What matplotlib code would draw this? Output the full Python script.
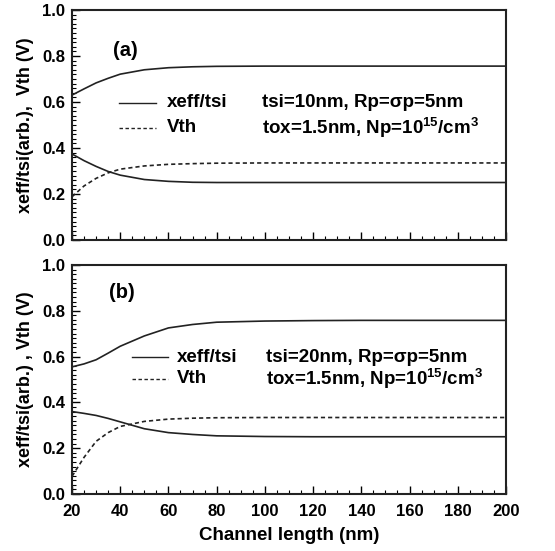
import numpy as np
import matplotlib
matplotlib.use("Agg")
import matplotlib.pyplot as plt
from matplotlib.ticker import MultipleLocator

plt.rcParams['font.family'] = ['Liberation Sans', 'DejaVu Sans']
plt.rcParams['font.weight'] = 'bold'
plt.rcParams['axes.labelweight'] = 'bold'
plt.rcParams['mathtext.fontset'] = 'custom'
plt.rcParams['mathtext.rm'] = 'Liberation Sans:bold'
plt.rcParams['mathtext.bf'] = 'Liberation Sans:bold'
plt.rcParams['mathtext.it'] = 'Liberation Sans:bold'

# channel length (nm)
length = [20, 25, 30, 35, 40, 50, 60, 70, 80, 100, 120, 140, 160, 180, 200]

# panel (a): tsi = 10nm
xeff_top_a = [0.630, 0.657, 0.683, 0.703, 0.721, 0.740, 0.749, 0.753, 0.755,
              0.756, 0.756, 0.756, 0.756, 0.756, 0.756]
xeff_bot_a = [0.374, 0.345, 0.320, 0.298, 0.282, 0.263, 0.255, 0.251, 0.250,
              0.250, 0.250, 0.250, 0.250, 0.250, 0.250]
vth_a = [0.188, 0.235, 0.268, 0.292, 0.308, 0.322, 0.329, 0.332, 0.334,
         0.335, 0.335, 0.335, 0.335, 0.335, 0.335]

# panel (b): tsi = 20nm
xeff_top_b = [0.555, 0.568, 0.586, 0.615, 0.645, 0.690, 0.725, 0.740, 0.750,
              0.755, 0.757, 0.758, 0.758, 0.758, 0.758]
xeff_bot_b = [0.360, 0.352, 0.343, 0.330, 0.315, 0.285, 0.268, 0.260, 0.254,
              0.251, 0.250, 0.250, 0.250, 0.250, 0.250]
vth_b = [0.077, 0.160, 0.230, 0.268, 0.295, 0.317, 0.327, 0.331, 0.333,
         0.334, 0.334, 0.334, 0.334, 0.334, 0.334]

fig = plt.figure(figsize=(5.55, 5.51), dpi=100)
ax_a = fig.add_axes([0.1297, 0.5644, 0.782, 0.4175])
ax_b = fig.add_axes([0.1297, 0.1034, 0.782, 0.4158])

line_col = '#222222'
dash = (0, (2.5, 1.8))
fs = 13.5


def style_axes(ax):
    ax.set_xlim(20, 200)
    ax.set_ylim(0, 1.0)
    ax.xaxis.set_major_locator(MultipleLocator(20))
    ax.xaxis.set_minor_locator(MultipleLocator(5))
    ax.yaxis.set_major_locator(MultipleLocator(0.2))
    ax.yaxis.set_minor_locator(MultipleLocator(0.02))
    ax.tick_params(which='both', direction='in', top=False, right=False)
    ax.tick_params(which='major', length=6, width=1.0, labelsize=12, pad=5)
    ax.tick_params(axis='x', which='major', pad=7)
    ax.tick_params(which='minor', length=3, width=0.8)
    ax.yaxis.set_major_formatter(plt.FuncFormatter(lambda v, p: f"{v:.1f}"))
    for lab in ax.get_xticklabels() + ax.get_yticklabels():
        lab.set_fontweight('bold')
    for s in ax.spines.values():
        s.set_linewidth(1.5)
        s.set_color('#222222')


def draw_panel(ax, top, bot, vth):
    ax.plot(length, top, color=line_col, lw=1.2)
    ax.plot(length, bot, color=line_col, lw=1.2)
    ax.plot(length, vth, color=line_col, lw=1.2, ls=dash)


draw_panel(ax_a, xeff_top_a, xeff_bot_a, vth_a)
draw_panel(ax_b, xeff_top_b, xeff_bot_b, vth_b)
style_axes(ax_a)
style_axes(ax_b)
ax_a.tick_params(labelbottom=False)

# panel (a) annotations
ax_a.text(42, 0.825, "(a)", fontsize=14.5, va='center', ha='center')
ax_a.plot([39.5, 55], [0.596, 0.596], color=line_col, lw=1.0)
ax_a.plot([39.5, 55], [0.487, 0.487], color=line_col, lw=1.0, ls=dash)
ax_a.text(59.5, 0.596, "xeff/tsi", fontsize=fs, va='center')
ax_a.text(59.5, 0.487, "Vth", fontsize=fs, va='center')
ax_a.text(99, 0.596, "tsi=10nm, Rp=\u03c3p=5nm", fontsize=fs, va='center')
ax_a.text(99, 0.487, "tox=1.5nm, Np=10$^{15}$/cm$^{3}$", fontsize=fs, va='center')
ax_a.set_ylabel("xeff/tsi(arb.),  Vth (V)", fontsize=13, labelpad=6)

# panel (b) annotations
ax_b.text(40.5, 0.88, "(b)", fontsize=14.5, va='center', ha='center')
ax_b.plot([45, 60], [0.598, 0.598], color=line_col, lw=1.0)
ax_b.plot([45, 60], [0.503, 0.503], color=line_col, lw=1.0, ls=dash)
ax_b.text(63.5, 0.598, "xeff/tsi", fontsize=fs, va='center')
ax_b.text(63.5, 0.503, "Vth", fontsize=fs, va='center')
ax_b.text(100.5, 0.598, "tsi=20nm, Rp=\u03c3p=5nm", fontsize=fs, va='center')
ax_b.text(100.5, 0.503, "tox=1.5nm, Np=10$^{15}$/cm$^{3}$", fontsize=fs, va='center')
ax_b.set_ylabel("xeff/tsi(arb.) , Vth (V)", fontsize=13, labelpad=6)
ax_b.set_xlabel("Channel length (nm)", fontsize=13.5, labelpad=6)

fig.savefig("out.png", dpi=100)
